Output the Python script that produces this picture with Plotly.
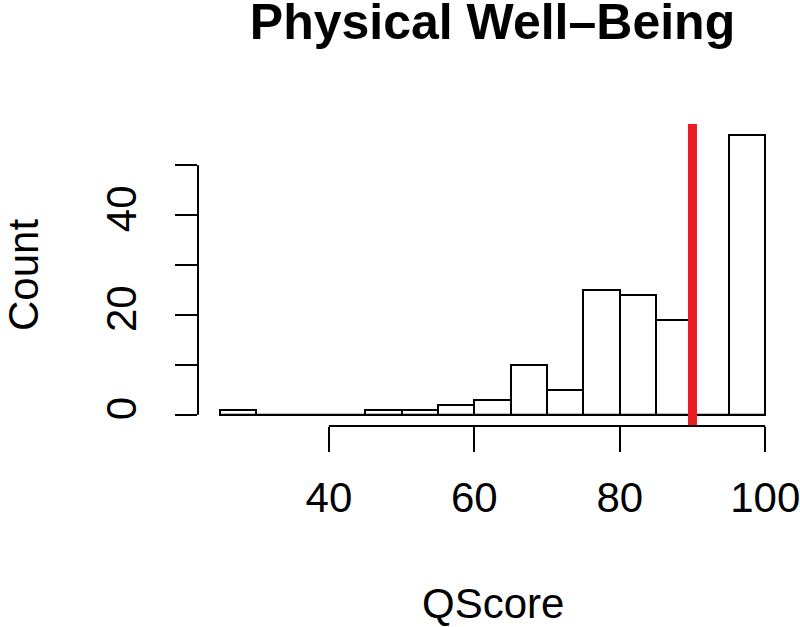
import plotly.graph_objects as go

# Histogram data (bins of width 5)
bin_edges = [25, 30, 35, 40, 45, 50, 55, 60, 65, 70, 75, 80, 85, 90, 95, 100]
counts = [1, 0, 0, 0, 1, 1, 2, 3, 10, 5, 25, 24, 19, 0, 56]
ref_value = 90
x_ticks = [40, 60, 80, 100]
y_ticks = [0, 10, 20, 30, 40, 50]
y_tick_labels = ["0", "", "20", "", "40", ""]

centers = [(a + b) / 2 for a, b in zip(bin_edges[:-1], bin_edges[1:])]
widths = [b - a for a, b in zip(bin_edges[:-1], bin_edges[1:])]

FONT = "Liberation Sans, Arial, Helvetica, sans-serif"

fig = go.Figure()
# baseline (zero-height bins are drawn as flat lines in R)
fig.add_trace(go.Scatter(x=[bin_edges[0], bin_edges[-1]], y=[0, 0], mode="lines",
                         line=dict(color="black", width=2), hoverinfo="skip", showlegend=False))
fig.add_trace(go.Bar(x=centers, y=counts, width=widths,
                     marker=dict(color="white", line=dict(color="black", width=2)),
                     showlegend=False))

# reference line
fig.add_shape(type="line", x0=ref_value, x1=ref_value, xref="x", y0=0, y1=1, yref="paper",
              line=dict(color="#EC1C24", width=9), layer="above")

# axis lines spanning first to last tick (R style)
fig.add_shape(type="line", x0=x_ticks[0], x1=x_ticks[-1], xref="x", y0=0, y1=0, yref="paper",
              line=dict(color="black", width=2))
fig.add_shape(type="line", y0=y_ticks[0], y1=y_ticks[-1], yref="y", x0=0, x1=0, xref="paper",
              line=dict(color="black", width=2))

lo, hi = bin_edges[0], bin_edges[-1]
pad_x = (hi - lo) * 0.04
ymax = max(counts)
pad_y = ymax * 0.04

fig.update_layout(
    width=800, height=627,
    margin=dict(l=198, r=13, t=124, b=201),
    plot_bgcolor="white", paper_bgcolor="white",
    bargap=0,
    font=dict(family=FONT, color="black"),
    title=dict(text="<b>Physical Well–Being</b>", x=(198 + 787) / 2 / 800, xanchor="center",
               y=1 - 21 / 627, yanchor="middle", font=dict(size=50, family=FONT, color="black")),
    xaxis=dict(range=[lo - pad_x, hi + pad_x], tickvals=x_ticks, ticks="outside", ticklen=25,
               tickwidth=2, tickcolor="black", showgrid=False, zeroline=False, showline=False,
               tickfont=dict(size=42), ticklabelstandoff=10, automargin=False,
               ticklabeloverflow="allow"),
    yaxis=dict(range=[-pad_y, ymax + pad_y], tickvals=y_ticks, ticktext=y_tick_labels,
               ticks="outside", ticklen=22, tickwidth=2, tickcolor="black", showgrid=False,
               zeroline=False, showline=False, tickangle=-90, tickfont=dict(size=42),
               ticklabelstandoff=22, automargin=False, ticklabeloverflow="allow"),
    annotations=[
        dict(text="QScore", x=0.5, xref="paper", y=0, yref="paper", yanchor="middle",
             yshift=-(603 - 426), showarrow=False, font=dict(size=42)),
        dict(text="Count", x=0, xref="paper", xanchor="center", xshift=-175, y=0.5, yref="paper",
             textangle=-90, showarrow=False, font=dict(size=42)),
    ],
)

fig.write_html("out.html", config={"displayModeBar": False},
               post_script="document.body.style.margin='0';document.body.style.overflow='hidden';")
